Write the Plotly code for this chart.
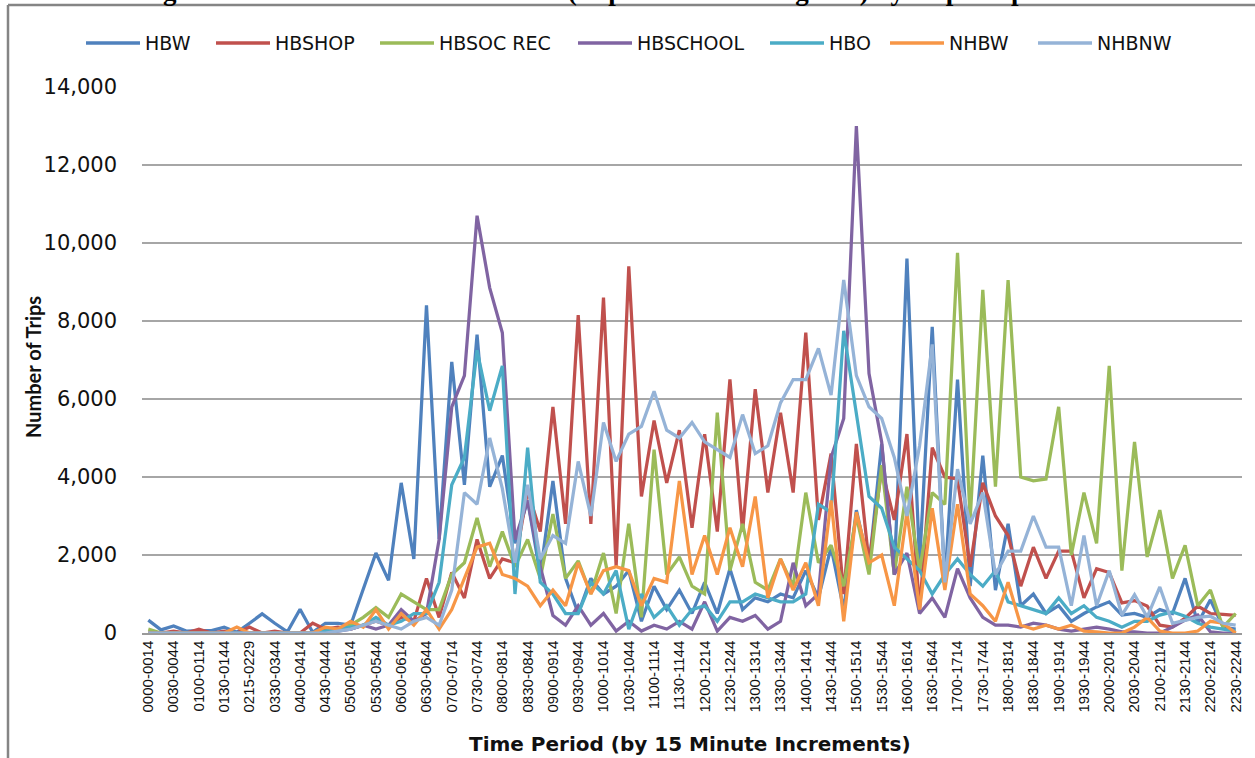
import plotly.graph_objects as go

# ---- categories (15-minute periods) ----
periods = (["0000-0014", "0015-0029", "0030-0044", "0045-0059", "0100-0114", "0115-0129",
            "0130-0144", "0145-0159", "0215-0229", "0300-0314", "0330-0344", "0345-0359"])
h, m = 4, 0
while (h, m) <= (22, 30):
    periods.append("%04d-%04d" % (h * 100 + m, h * 100 + m + 14))
    m += 15
    if m == 60:
        h, m = h + 1, 0

tick_labels = periods[::2]

# ---- series values ----
hbw = [330, 80, 180, 50, 60, 60, 150, 20, 250, 490, 250, 30, 610, 20, 250, 250, 200, 1100,
       2050, 1350, 3850, 1900, 8400, 2400, 6950, 3800, 7650, 3750, 4550, 2300, 3400, 1500,
       3900, 1400, 500, 1400, 1000, 1200, 1600, 300, 1200, 600, 1100, 500, 1300, 500, 1650,
       600, 900, 800, 1000, 900, 1600, 900, 2200, 600, 3150, 1700, 4850, 1500, 9600, 1800,
       7850, 1300, 6500, 1200, 4550, 1100, 2800, 700, 1000, 500, 700, 300, 500, 670, 800,
       460, 500, 400, 600, 500, 1400, 250, 850, 150, 100]
hbshop = [0, 0, 50, 0, 100, 0, 50, 0, 150, 0, 50, 0, 0, 250, 100, 150, 100, 200, 300, 200,
          400, 300, 1400, 400, 1550, 900, 2400, 1400, 1900, 1800, 3650, 2600, 5800, 2800,
          8150, 2800, 8600, 1700, 9400, 3500, 5450, 3850, 5200, 2700, 5100, 2600, 6500, 2600,
          6250, 3600, 5650, 3600, 7700, 2900, 4600, 1000, 4850, 1800, 4200, 2900, 5100, 600,
          4750, 4000, 3950, 1700, 3850, 3000, 2500, 1200, 2200, 1400, 2100, 2100, 900, 1650,
          1550, 770, 830, 690, 200, 150, 380, 690, 500, 480, 450]
hbsocrec = [100, 0, 0, 0, 0, 0, 0, 0, 0, 0, 0, 0, 0, 0, 50, 100, 200, 400, 650, 400, 1000,
            800, 600, 600, 1500, 1800, 2950, 1700, 2600, 1700, 2400, 1400, 3050, 1400, 1850,
            1000, 2050, 500, 2800, 400, 4700, 1500, 1950, 1200, 1000, 5650, 1600, 2800, 1300,
            1100, 1900, 1200, 3600, 1800, 2250, 1200, 3000, 1500, 4300, 1500, 3750, 1600, 3600,
            3300, 9750, 2900, 8800, 3750, 9050, 4000, 3900, 3950, 5800, 2000, 3600, 2300, 6850,
            1600, 4900, 1950, 3150, 1400, 2250, 700, 1100, 150, 500]
hbschool = [0, 0, 0, 0, 0, 0, 0, 0, 0, 0, 0, 0, 0, 0, 0, 50, 100, 200, 100, 200, 600, 300,
            500, 2400, 5800, 6600, 10700, 8850, 7700, 2400, 3400, 1700, 450, 200, 700, 200,
            500, 50, 300, 50, 200, 100, 300, 100, 800, 50, 400, 300, 450, 100, 300, 1800, 700,
            1000, 4500, 5500, 13000, 6650, 4900, 1500, 2050, 500, 900, 400, 1650, 900, 400,
            200, 200, 150, 250, 200, 100, 50, 100, 150, 100, 30, 30, 0, 0, 150, 330, 460, 30,
            0, 0]
hbo = [0, 0, 0, 0, 0, 0, 0, 0, 0, 0, 0, 0, 0, 0, 50, 100, 150, 200, 400, 200, 300, 500, 500,
       1300, 3800, 4500, 7250, 5700, 6850, 1000, 4750, 1300, 1000, 500, 500, 1300, 1000, 1600,
       100, 1000, 400, 700, 200, 600, 700, 300, 800, 800, 1000, 900, 800, 800, 1000, 3300,
       3100, 7750, 5600, 3500, 3200, 2200, 1900, 1600, 1000, 1500, 1900, 1500, 1200, 1600,
       800, 700, 600, 500, 900, 500, 700, 400, 300, 150, 300, 300, 460, 540, 430, 250, 150,
       100, 50]
nhbw = [0, 0, 0, 0, 0, 0, 0, 150, 0, 0, 0, 0, 0, 0, 150, 100, 300, 150, 600, 100, 500, 200,
        600, 100, 600, 1400, 2200, 2300, 1500, 1400, 1200, 700, 1100, 700, 1800, 1000, 1600,
        1700, 1600, 700, 1400, 1300, 3900, 1500, 2500, 1500, 2700, 1700, 3500, 900, 1900, 1100,
        1800, 700, 3400, 300, 3100, 1800, 2000, 700, 3100, 600, 3200, 1100, 3300, 1000, 700,
        300, 1300, 200, 100, 200, 100, 200, 50, 30, 0, 0, 150, 400, 50, 0, 0, 50, 300, 250, 0]
nhbnw = [0, 0, 0, 0, 0, 0, 0, 0, 0, 0, 0, 0, 0, 0, 0, 50, 100, 200, 300, 200, 100, 300, 400,
         200, 1100, 3600, 3300, 5000, 3700, 1800, 3800, 1900, 2500, 2300, 4400, 3000, 5400,
         4400, 5100, 5300, 6200, 5200, 5000, 5400, 4900, 4700, 4500, 5600, 4600, 4800, 5900,
         6500, 6500, 7300, 6100, 9050, 6600, 5800, 5500, 4500, 3000, 4800, 7400, 1300, 4200,
         2800, 3600, 1500, 2100, 2100, 3000, 2200, 2200, 700, 2500, 700, 1600, 460, 980, 410,
         1180, 250, 330, 400, 430, 250, 200]

series_names = ["HBW", "HBSHOP", "HBSOC REC", "HBSCHOOL", "HBO", "NHBW", "NHBNW"]
series_values = [hbw, hbshop, hbsocrec, hbschool, hbo, nhbw, nhbnw]
series_colors = ["#4F81BD", "#C0504D", "#9BBB59", "#8064A2", "#4BACC6", "#F79646", "#95B3D7"]

W, H = 1255, 758
L, R, T, B = 142, 13, 87, 125
pw, ph = W - L - R, H - T - B


def px_x(p):
    return (p - L) / pw


def px_y(p):
    return (H - B - p) / ph


fig = go.Figure()
for name, vals, col in zip(series_names, series_values, series_colors):
    fig.add_trace(go.Scatter(x=periods, y=vals, name=name, mode="lines",
                             line=dict(color=col, width=3.25)))

# legend drawn as keys + labels (positions in page pixels)
legend_x = [86, 216, 380, 578, 770, 890, 1038]
shapes = [
    dict(type="line", xref="paper", yref="paper", x0=px_x(8), x1=px_x(8),
         y0=px_y(5), y1=px_y(770), line=dict(color="#858585", width=2.5)),
    dict(type="line", xref="paper", yref="paper", x0=px_x(8), x1=px_x(1270),
         y0=px_y(5), y1=px_y(5), line=dict(color="#858585", width=2.5)),
]
annotations = [
    dict(text="<b>Figure 5-3: Travel Time Distribution (Expanded and Weighted) by Trip Purpose</b>",
         xref="paper", yref="paper", x=px_x(600), y=px_y(8), xanchor="center",
         yanchor="bottom", showarrow=False,
         font=dict(family="Liberation Serif", size=27, color="#000")),
    dict(text="<b>Time Period (by 15 Minute Increments)</b>", xref="paper", yref="paper",
         x=px_x(690), y=px_y(744), xanchor="center", yanchor="middle", showarrow=False,
         font=dict(family="DejaVu Sans", size=20, color="#111")),
    dict(text="<b>Number of Trips</b>", xref="paper", yref="paper", textangle=-90,
         x=px_x(33), y=px_y(367), xanchor="center", yanchor="middle", showarrow=False,
         font=dict(family="Lato", size=20, color="#111")),
]
for lx, name, col in zip(legend_x, series_names, series_colors):
    shapes.append(dict(type="line", xref="paper", yref="paper", x0=px_x(lx), x1=px_x(lx + 54),
                       y0=px_y(43), y1=px_y(43), line=dict(color=col, width=3.5)))
    annotations.append(dict(text=name, xref="paper", yref="paper", x=px_x(lx + 57),
                            y=px_y(43), xanchor="left", yanchor="middle", showarrow=False,
                            font=dict(family="DejaVu Sans", size=19, color="#111")))

fig.update_layout(
    width=W, height=H,
    margin=dict(l=L, r=R, t=T, b=B, pad=0),
    paper_bgcolor="white", plot_bgcolor="white",
    showlegend=False,
    xaxis=dict(type="category", range=[-0.5, len(periods) - 0.5],
               tickmode="array", tickvals=tick_labels, ticktext=tick_labels,
               tickangle=-90, tickfont=dict(family="Liberation Sans", size=15, color="#111"),
               showgrid=False, showline=True, linecolor="#9a9a9a", linewidth=1.5,
               ticks="", zeroline=False),
    yaxis=dict(range=[0, 14000], tickvals=list(range(0, 14001, 2000)), tickformat=",",
               showgrid=True, gridcolor="#a6a6a6", gridwidth=1.5, zeroline=False,
               showline=False, ticks="", ticklabelstandoff=24,
               tickfont=dict(family="DejaVu Sans", size=21, color="#111")),
    shapes=shapes,
    annotations=annotations,
)

fig.write_html("out.html", config={"displayModeBar": False},
               post_script="document.body.style.margin='0';document.body.style.overflow='hidden';")
